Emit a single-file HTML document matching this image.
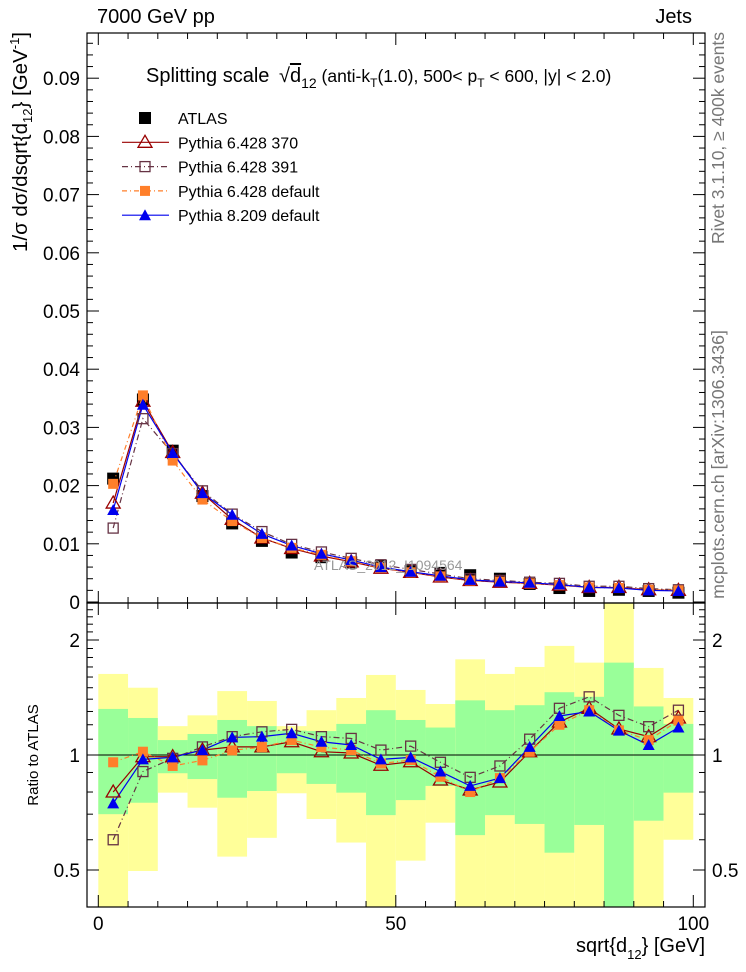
<!DOCTYPE html>
<html><head><meta charset="utf-8"><style>
html,body{margin:0;padding:0;background:#fff}
svg{display:block;font-family:"Liberation Sans",sans-serif}
</style></head><body>
<svg id="chart" width="746" height="972" viewBox="0 0 746 972" xmlns="http://www.w3.org/2000/svg">
<g id="bands"></g>
<g id="grid"></g>
<g id="series"></g>
<g id="axes"></g>
<text x="97" y="23" font-size="20">7000 GeV pp</text>
<text x="692" y="23" font-size="20" text-anchor="end">Jets</text>
<text x="146" y="82" font-size="20">Splitting scale <tspan dx="4">√</tspan><tspan text-decoration="overline">d</tspan><tspan font-size="14" dy="6">12</tspan><tspan font-size="17.5" dy="-6"> (anti-k</tspan><tspan font-size="12" dy="5">T</tspan><tspan font-size="17.5" dy="-5">(1.0), 500&lt; p</tspan><tspan font-size="12" dy="5">T</tspan><tspan font-size="17.5" dy="-5"> &lt; 600, |y| &lt; 2.0)</tspan></text>
<text x="314" y="570" font-size="14" fill="#999">ATLAS_2012_I1094564</text>
<text transform="translate(27,32) rotate(-90)" font-size="20.5" text-anchor="end">1/σ dσ/dsqrt{d<tspan font-size="13" dy="5">12</tspan><tspan dy="-5">} [GeV</tspan><tspan font-size="13" dy="-8">-1</tspan><tspan dy="8">]</tspan></text>
<text transform="translate(38,755) rotate(-90)" font-size="15" text-anchor="middle">Ratio to ATLAS</text>
<text transform="translate(724,32) rotate(-90)" font-size="17.5" fill="#777" text-anchor="end">Rivet 3.1.10, ≥ 400k events</text>
<text transform="translate(724,330) rotate(-90)" font-size="17.8" fill="#777" text-anchor="end">mcplots.cern.ch [arXiv:1306.3436]</text>
<text x="705" y="952" font-size="20" text-anchor="end">sqrt{d<tspan font-size="13" dy="7">12</tspan><tspan dy="-7">} [GeV]</tspan></text>
<g id="legend"></g>
</svg>
<script>
const binCenters=[2.5,7.5,12.5,17.5,22.5,27.5,32.5,37.5,42.5,47.5,52.5,57.5,62.5,67.5,72.5,77.5,82.5,87.5,92.5,97.5];
const atlas=[0.0212,0.0348,0.0260,0.0182,0.0135,0.0105,0.0085,0.0077,0.0068,0.0062,0.0053,0.0050,0.0046,0.0040,0.0031,0.0024,0.0019,0.0021,0.0019,0.0016];
const p370=[0.0170,0.0345,0.0257,0.0187,0.0142,0.0110,0.0092,0.0079,0.0069,0.0058,0.0051,0.0043,0.0037,0.0034,0.0032,0.0029,0.0025,0.0025,0.0021,0.0020];
const p391=[0.0127,0.0315,0.0255,0.0191,0.0151,0.0121,0.0099,0.0086,0.0075,0.0064,0.0056,0.0048,0.0040,0.0037,0.0034,0.0032,0.0027,0.0027,0.0023,0.0021];
const p6def=[0.0203,0.0355,0.0243,0.0176,0.0139,0.0110,0.0093,0.0081,0.0070,0.0059,0.0051,0.0044,0.0037,0.0035,0.0032,0.0029,0.0025,0.0024,0.0021,0.0020];
const p8def=[0.0158,0.0339,0.0256,0.0187,0.0150,0.0117,0.0097,0.0083,0.0072,0.0060,0.0052,0.0045,0.0038,0.0035,0.0033,0.0030,0.0025,0.0024,0.0020,0.0019];
const r370=[0.80,0.99,0.99,1.03,1.05,1.05,1.083,1.02,1.012,0.94,0.96,0.86,0.81,0.85,1.02,1.22,1.325,1.17,1.117,1.25];
const r391=[0.60,0.905,0.98,1.05,1.117,1.15,1.167,1.117,1.105,1.03,1.055,0.957,0.874,0.936,1.10,1.325,1.42,1.27,1.186,1.31];
const r6def=[0.957,1.02,0.936,0.968,1.028,1.049,1.094,1.049,1.03,0.95,0.97,0.877,0.80,0.87,1.02,1.20,1.31,1.16,1.094,1.23];
const r8def=[0.747,0.974,0.986,1.03,1.112,1.117,1.14,1.083,1.062,0.974,0.986,0.905,0.83,0.87,1.05,1.265,1.30,1.158,1.062,1.18];
const bandGreenHi=[1.32,1.25,1.094,1.135,1.235,1.19,1.158,1.155,1.206,1.31,1.235,1.18,1.39,1.31,1.35,1.46,1.42,1.745,1.34,1.206];
const bandGreenLo=[0.70,0.75,0.896,0.865,0.773,0.805,0.896,0.84,0.797,0.696,0.762,0.83,0.617,0.696,0.66,0.555,0.656,0.3,0.673,0.797];
const bandYellowHi=[1.63,1.50,1.19,1.27,1.47,1.385,1.19,1.31,1.41,1.62,1.48,1.36,1.78,1.63,1.70,1.93,1.745,3.0,1.69,1.41];
const bandYellowLo=[0.3,0.497,0.797,0.728,0.542,0.607,0.794,0.68,0.59,0.3,0.529,0.665,0.3,0.3,0.3,0.3,0.3,0.3,0.3,0.60];
const xTickLabels=[0,50,100];
const yTickLabels=[0.01,0.02,0.03,0.04,0.05,0.06,0.07,0.08,0.09];
const rTickLabels=[0.5,1,2];

const NS="http://www.w3.org/2000/svg";
const L=87,R=705,T1=33,B1=603,B2=907;
const X=v=>98.3+v*5.95;
const Y=v=>602-v*5820;
const RY=v=>755-115*Math.log2(v);
function mk(tag,attrs,parent){const e=document.createElementNS(NS,tag);for(const k in attrs)e.setAttribute(k,attrs[k]);parent.appendChild(e);return e;}
const bands=document.getElementById('bands'),series=document.getElementById('series'),axes=document.getElementById('axes'),legend=document.getElementById('legend');
const clampR=v=>Math.min(B2,Math.max(B1,v));
binCenters.forEach((c,i)=>{
  const x0=X(c-2.5),x1=X(c+2.5);
  const y=mk('rect',{x:x0,y:clampR(RY(bandYellowHi[i])),width:x1-x0,height:clampR(RY(bandYellowLo[i]))-clampR(RY(bandYellowHi[i])),fill:'#ffff99'},bands);
  
  
  const g=mk('rect',{x:x0,y:clampR(RY(bandGreenHi[i])),width:x1-x0,height:clampR(RY(bandGreenLo[i]))-clampR(RY(bandGreenHi[i])),fill:'#99ff99'},bands);
  
  
});
const one=mk('line',{x1:L,x2:R,y1:RY(1),y2:RY(1),stroke:'#000','stroke-width':1},bands);



function marker(type,x,y,col,parent,name){
  let e;
  if(type==='sq') e=mk('rect',{x:x-6,y:y-6,width:12,height:12,fill:'#000'},parent);
  else if(type==='osq') e=mk('rect',{x:x-5,y:y-5,width:10,height:10,fill:'none',stroke:col,'stroke-width':1.3},parent);
  else if(type==='fsq') e=mk('rect',{x:x-5,y:y-5,width:10,height:10,fill:col},parent);
  else if(type==='otri') e=mk('polygon',{points:`${x},${y-7} ${x-7},${y+5} ${x+7},${y+5}`,fill:'none',stroke:col,'stroke-width':1.3},parent);
  else e=mk('polygon',{points:`${x},${y-6} ${x-6},${y+5} ${x+6},${y+5}`,fill:col},parent);
  
  
}
const defs=[
 {n:'pythia6-370',top:p370,rat:r370,col:'#990000',dash:'',m:'otri'},
 {n:'pythia6-391',top:p391,rat:r391,col:'#663344',dash:'6 3 1 3',m:'osq'},
 {n:'pythia6-default',top:p6def,rat:r6def,col:'#ff7f2a',dash:'5 3 1 3',m:'fsq'},
 {n:'pythia8-default',top:p8def,rat:r8def,col:'#0000ee',dash:'',m:'ftri'}
];
binCenters.forEach((c,i)=>marker('sq',X(c),Y(atlas[i]),'#000',series,'atlas-point-'+(i+1)));
defs.forEach(d=>{
  const pt=binCenters.map((c,i)=>X(c)+','+Y(d.top[i])).join(' ');
  const pl=mk('polyline',{points:pt,fill:'none',stroke:d.col,'stroke-width':1.2,'stroke-dasharray':d.dash},series);
  
  
  const pr=binCenters.map((c,i)=>X(c)+','+RY(d.rat[i])).join(' ');
  const rl=mk('polyline',{points:pr,fill:'none',stroke:d.col,'stroke-width':1.2,'stroke-dasharray':d.dash},series);
  
  
});
defs.forEach(d=>{
  binCenters.forEach((c,i)=>{
    marker(d.m,X(c),Y(d.top[i]),d.col,series,d.n+'-point-'+(i+1));
    marker(d.m,X(c),RY(d.rat[i]),d.col,series,d.n+'-ratio-point-'+(i+1));
  });
});
[[T1,B1,'main-frame'],[B1,B2,'ratio-frame']].forEach(([t,b,n])=>{
  const f=mk('rect',{x:L,y:t,width:R-L,height:b-t,fill:'none',stroke:'#000','stroke-width':1.2},axes);
  
  
});
function tick(x1,y1,x2,y2){mk('line',{x1,y1,x2,y2,stroke:'#000','stroke-width':1},axes);}
for(let v=0;v<=100;v+=5){
  const x=X(v),len=(v%50===0)?12:6;
  tick(x,B1,x,B1-len);tick(x,T1,x,T1+len);
  tick(x,B2,x,B2-len);tick(x,B1,x,B1+len);
}
xTickLabels.forEach(v=>{
  const t=mk('text',{x:X(v),y:930,'font-size':19,'text-anchor':'middle'},axes);t.textContent=v;
  
  
});
for(let k=0;k<=49;k++){
  const v=k*0.002,y=Y(v);if(y<T1)break;
  const len=(k%5===0)?12:6;
  tick(L,y,L+len,y);tick(R,y,R-len,y);
}
const zl=mk('text',{x:80,y:Y(0)+7,'font-size':19,'text-anchor':'end'},axes);zl.textContent='0';


yTickLabels.forEach(v=>{
  const t=mk('text',{x:80,y:Y(v)+7,'font-size':19,'text-anchor':'end'},axes);t.textContent=v.toFixed(2);
  
  
});
for(let k=4;k<=25;k++){
  const v=k/10,y=RY(v);if(y<B1||y>B2)continue;
  const major=(k===5||k===10||k===20);const len=major?12:6;
  tick(L,y,L+len,y);tick(R,y,R-len,y);
}
rTickLabels.forEach(v=>{
  const a=mk('text',{x:80,y:RY(v)+7,'font-size':19,'text-anchor':'end'},axes);a.textContent=v;
  
  
  const b=mk('text',{x:712,y:RY(v)+7,'font-size':19},axes);b.textContent=v;
  
  
});
const leg=[['ATLAS','sq','#000',''],['Pythia 6.428 370','otri','#990000',''],['Pythia 6.428 391','osq','#663344','6 3 1 3'],['Pythia 6.428 default','fsq','#ff7f2a','5 3 1 3'],['Pythia 8.209 default','ftri','#0000ee','']];
leg.forEach((e,i)=>{
  const y=118+i*24.3;
  if(i>0){const l=mk('line',{x1:122,x2:169,y1:y,y2:y,stroke:e[2],'stroke-width':1.2,'stroke-dasharray':e[3]},legend);
    
    }
  marker(e[1],145,y,e[2],legend,'legend-marker-'+(i+1));
  const t=mk('text',{x:178,y:y+6,'font-size':16},legend);t.textContent=e[0];
  
  
});
</script>
</body></html>
